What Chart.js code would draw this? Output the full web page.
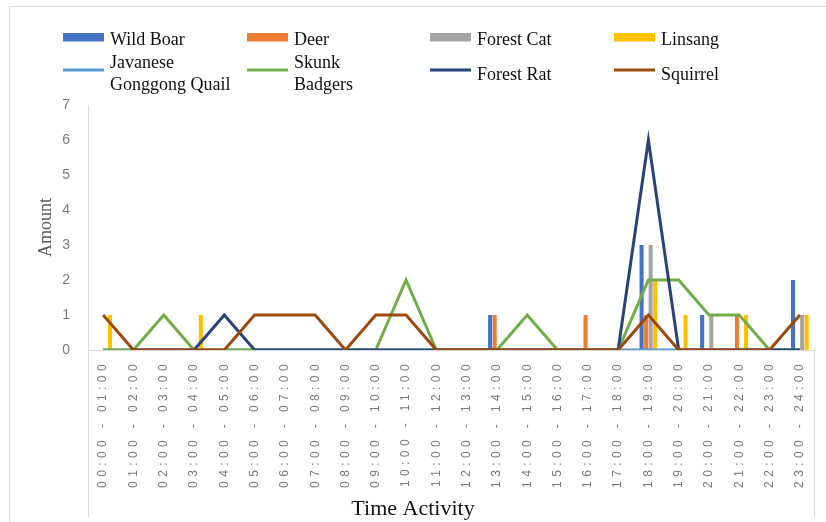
<!DOCTYPE html>
<html>
<head>
<meta charset="utf-8">
<script src="https://cdn.jsdelivr.net/npm/chart.js@4/dist/chart.umd.min.js"></script>
<style>
  html, body { margin: 0; padding: 0; background: #ffffff; }
  #wrap { position: relative; width: 826px; height: 522px; }
  canvas { display: block; }
</style>
</head>
<body>
<div id="wrap"><canvas id="chart" width="826" height="522"></canvas></div>
<script>
// Hourly time slots
const timeSlots = [
  '00:00 - 01:00', '01:00 - 02:00', '02:00 - 03:00', '03:00 - 04:00',
  '04:00 - 05:00', '05:00 - 06:00', '06:00 - 07:00', '07:00 - 08:00',
  '08:00 - 09:00', '09:00 - 10:00', '10:00 - 11:00', '11:00 - 12:00',
  '12:00 - 13:00', '13:00 - 14:00', '14:00 - 15:00', '15:00 - 16:00',
  '16:00 - 17:00', '17:00 - 18:00', '18:00 - 19:00', '19:00 - 20:00',
  '20:00 - 21:00', '21:00 - 22:00', '22:00 - 23:00', '23:00 - 24:00'
];

// Counts per time slot (bars)
const wildBoar  = [0,0,0,0,0,0,0,0,0,0,0,0,0,1,0,0,0,0,3,0,1,0,0,2];
const deer      = [0,0,0,0,0,0,0,0,0,0,0,0,0,1,0,0,1,0,1,0,0,1,0,0];
const forestCat = [0,0,0,0,0,0,0,0,0,0,0,0,0,0,0,0,0,0,3,0,1,0,0,1];
const linsang   = [1,0,0,1,0,0,0,0,0,0,0,0,0,0,0,0,0,0,2,1,0,1,0,1];

// Counts per time slot (lines)
const javaneseQuail = [0,0,0,0,0,0,0,0,0,0,0,0,0,0,0,0,0,0,0,0,0,0,0,0];
const skunkBadgers  = [0,0,1,0,0,0,0,0,0,0,2,0,0,0,1,0,0,0,2,2,1,1,0,0];
const forestRat     = [null,0,0,0,1,0,0,0,0,0,0,0,0,0,0,0,0,0,6,0,0,0,0,0];
const squirrel      = [1,0,0,0,0,1,1,1,0,1,1,0,0,0,0,0,0,0,1,0,0,0,0,1];

// Legend names (multi-line names are split into rows)
const seriesNames = [
  ['Wild Boar'], ['Deer'], ['Forest Cat'], ['Linsang'],
  ['Javanese', 'Gonggong Quail'], ['Skunk', 'Badgers'], ['Forest Rat'], ['Squirrel']
];

const yTicks = [0, 1, 2, 3, 4, 5, 6, 7];

const bar = (i, data, color) => ({
  type: 'bar', label: seriesNames[i].join(' '), legendLines: seriesNames[i],
  data, backgroundColor: color, borderWidth: 0, order: 10,
  categoryPercentage: 0.6, barPercentage: 0.9
});
const line = (i, data, color, order) => ({
  type: 'line', label: seriesNames[i].join(' '), legendLines: seriesNames[i],
  data, borderColor: color, backgroundColor: color, borderWidth: 3,
  pointRadius: 0, tension: 0, fill: false, spanGaps: false, order
});

// Frame, extended axis edges, spaced tick labels and custom legend
const decor = {
  id: 'decor',
  beforeDraw(chart) {
    const ctx = chart.ctx;
    ctx.save();
    ctx.strokeStyle = '#d9d9d9';
    ctx.lineWidth = 1;
    ctx.strokeRect(9.5, 6.5, 1000, 1000);
    ctx.restore();
  },
  beforeDatasetsDraw(chart) {
    const {ctx, chartArea} = chart;
    ctx.save();
    ctx.strokeStyle = '#d9d9d9';
    ctx.lineWidth = 1;
    ctx.beginPath();
    ctx.moveTo(Math.round(chartArea.left) + 0.5, chartArea.bottom);
    ctx.lineTo(Math.round(chartArea.left) + 0.5, 517);
    ctx.moveTo(Math.round(chartArea.right) - 0.5, chartArea.bottom);
    ctx.lineTo(Math.round(chartArea.right) - 0.5, 517);
    ctx.stroke();
    ctx.restore();
  },
  afterLayout(chart) {
    const s = chart.scales.x;
    if (!s._patched) {
      const origLabels = s.drawLabels.bind(s);
      s.drawLabels = function (area) {
        const c = this.ctx;
        c.save();
        c.letterSpacing = '4.4px';
        origLabels(area);
        c.restore();
      };
      // Axis title centred on the whole canvas width
      const origTitle = s.drawTitle.bind(s);
      s.drawTitle = function (area) {
        const c = this.ctx;
        c.save();
        c.translate(chart.width / 2 - (this.left + this.right) / 2, 0);
        origTitle(area);
        c.restore();
      };
      s._patched = true;
    }
  },
  afterDraw(chart) {
    const ctx = chart.ctx;
    const colX = [63, 247, 430, 614];
    ctx.save();
    ctx.font = '18px "Liberation Serif", "Times New Roman", serif';
    ctx.textBaseline = 'alphabetic';
    ctx.textAlign = 'left';
    chart.data.datasets.forEach((ds, i) => {
      const col = i % 4, row = Math.floor(i / 4);
      const x = colX[col];
      if (ds.type === 'bar') {
        ctx.fillStyle = ds.backgroundColor;
        ctx.fillRect(x, 33, 41, 8.5);
      } else {
        ctx.strokeStyle = ds.borderColor;
        ctx.lineWidth = 3;
        ctx.beginPath();
        ctx.moveTo(x, 70);
        ctx.lineTo(x + 41, 70);
        ctx.stroke();
      }
      ctx.fillStyle = '#111111';
      const lines = ds.legendLines;
      const tx = x + 47;
      if (row === 0) {
        ctx.fillText(lines[0], tx, 45);
      } else if (lines.length === 1) {
        ctx.fillText(lines[0], tx, 80);
      } else {
        ctx.fillText(lines[0], tx, 67.5);
        ctx.fillText(lines[1], tx, 89.5);
      }
    });
    ctx.restore();
  }
};

new Chart(document.getElementById('chart'), {
  data: {
    labels: timeSlots,
    datasets: [
      bar(0, wildBoar, '#4472C4'),
      bar(1, deer, '#ED7D31'),
      bar(2, forestCat, '#A5A5A5'),
      bar(3, linsang, '#FFC000'),
      line(4, javaneseQuail, '#5B9BD5', 4),
      line(5, skunkBadgers, '#70AD47', 3),
      line(6, forestRat, '#264478', 2),
      line(7, squirrel, '#9E480E', 1)
    ]
  },
  options: {
    responsive: false,
    animation: false,
    layout: { padding: { left: 0, top: 105, right: 11, bottom: 0 } },
    plugins: { legend: { display: false }, tooltip: { enabled: false } },
    scales: {
      x: {
        offset: true,
        grid: { display: false },
        border: { display: true, color: '#d9d9d9', width: 1 },
        ticks: {
          autoSkip: false, minRotation: 90, maxRotation: 90,
          padding: 2, color: '#7a7a7a',
          font: { family: '"Liberation Sans", Arial, sans-serif', size: 12 }
        },
        title: {
          display: true, text: 'Time Activity', color: '#111111',
          font: { family: '"Liberation Serif", "Times New Roman", serif', size: 22 },
          padding: { top: 0, bottom: 0 }
        },
        afterFit(scale) { scale.height = 172; }
      },
      y: {
        min: 0, max: 7,
        afterBuildTicks(scale) { scale.ticks = yTicks.map(v => ({ value: v })); },
        grid: { display: false },
        border: { display: true, color: '#d9d9d9', width: 1 },
        ticks: {
          padding: 10, color: '#7a7a7a',
          font: { family: '"Liberation Sans", Arial, sans-serif', size: 14 }
        },
        title: {
          display: true, text: 'Amount', color: '#595959',
          font: { family: '"Liberation Serif", "Times New Roman", serif', size: 18 },
          padding: { top: 35, bottom: 0 }
        },
        afterFit(scale) { scale.width = 88; }
      }
    }
  },
  plugins: [decor]
});
</script>
</body>
</html>
